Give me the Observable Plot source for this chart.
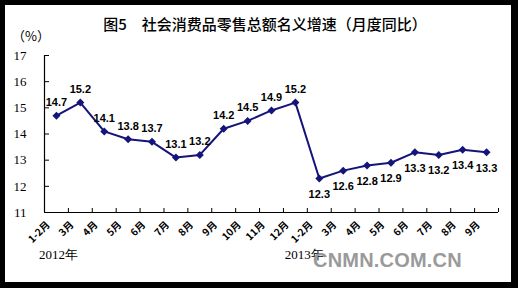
<!DOCTYPE html>
<html><head><meta charset="utf-8">
<script src="https://cdn.jsdelivr.net/npm/d3@7"></script>
<script src="https://cdn.jsdelivr.net/npm/@observablehq/plot@0.6"></script>
<style>
body{margin:0;}
#wrap{position:relative;width:518px;height:288px;background:#000;overflow:hidden;}
#inner{position:absolute;left:5px;top:5px;width:506px;height:277px;background:#fff;}
#chart{position:absolute;left:0;top:0;}
#title{position:absolute;left:0;width:530px;top:16px;text-align:center;font:500 15px/15px "Noto Sans CJK SC";color:#000;white-space:pre;}
#unit{position:absolute;left:12px;top:29px;font:13px/13px "Noto Sans CJK SC";color:#000;}
#wm{position:absolute;left:313px;top:250px;font:bold 20px/20px "Liberation Sans";color:#9a9a9a;letter-spacing:0.2px;}
</style></head>
<body>
<div id="wrap">
  <div id="inner"></div>
  <div id="chart"></div>
  <div id="title">图5　社会消费品零售总额名义增速（月度同比）</div>
  <div id="unit">（%）</div>
  <div id="wm">CNMN.COM.CN</div>
</div>
<script>
const months = ["1-2月","3月","4月","5月","6月","7月","8月","9月","10月","11月","12月","1-2月","3月","4月","5月","6月","7月","8月","9月"];
const years = [2012,2012,2012,2012,2012,2012,2012,2012,2012,2012,2012,2013,2013,2013,2013,2013,2013,2013,2013];
const values = [14.7,15.2,14.1,13.8,13.7,13.1,13.2,14.2,14.5,14.9,15.2,12.3,12.6,12.8,12.9,13.3,13.2,13.4,13.3];
const yTicks = [11,12,13,14,15,16,17];
const yearLabels = ["2012年","2013年"];

const data = values.map((v,i)=>({i, v, m: months[i], year: years[i]}));
const navy = "#14147a";
const lblFont = "Liberation Sans, Arial, sans-serif";
const bounds = d3.range(months.length + 1).map(k => k - 0.5);

const chart = Plot.plot({
  width: 518, height: 288,
  marginLeft: 44, marginRight: 20, marginTop: 55, marginBottom: 76,
  style: {background: "transparent", overflow: "visible"},
  x: {type: "linear", domain: [-0.5, months.length - 0.5], axis: null},
  y: {domain: [11, 17], axis: null},
  marks: [
    Plot.ruleY([11], {x1: -0.5, x2: months.length - 0.5, stroke: "#000", strokeWidth: 1.2}),
    Plot.ruleX([-0.5], {y1: 11, y2: 17, stroke: "#000", strokeWidth: 1.2}),
    Plot.ruleX(bounds, {x: d => d, y1: 11, y2: 11, insetTop: -4, stroke: "#000"}),
    Plot.ruleY(yTicks, {y: d => d, x1: -0.5, x2: -0.5, insetRight: -5, stroke: "#000"}),
    Plot.text(yTicks, {y: d => d, frameAnchor: "left", text: d => String(d), textAnchor: "end", dx: -18, fontFamily: "Liberation Serif, serif", fontSize: 13, fill: "#000"}),
    Plot.line(data, {x: "i", y: "v", stroke: navy, strokeWidth: 2}),
    Plot.dot(data, {x: "i", y: "v", symbol: "diamond2", r: 3.6, fill: navy, stroke: "none"}),
    Plot.text(data.filter(d => d.year === 2012), {x: "i", y: "v", text: d => d.v.toFixed(1), dy: -13, fontWeight: "bold", fontSize: 11, fontFamily: lblFont, fill: "#000"}),
    Plot.text(data.filter(d => d.year === 2013), {x: "i", y: "v", text: d => d.v.toFixed(1), dy: 16, fontWeight: "bold", fontSize: 11, fontFamily: lblFont, fill: "#000"}),
    Plot.text(data, {x: "i", frameAnchor: "bottom", text: "m", rotate: -45, textAnchor: "end", dx: -6, dy: 13, fontWeight: "bold", fontSize: 10, fontFamily: "Noto Sans CJK SC", fill: "#000"}),
    Plot.text([yearLabels[0]], {x: () => data.findIndex(d => d.year === 2012), frameAnchor: "bottom", text: d => d, dy: 46, dx: 2, fontFamily: "Liberation Serif, serif", fontSize: 13, fill: "#000"}),
    Plot.text([yearLabels[1]], {x: () => data.findIndex(d => d.year === 2013), frameAnchor: "bottom", text: d => d, dy: 46, dx: -15, fontFamily: "Liberation Serif, serif", fontSize: 13, fill: "#000"})
  ]
});
document.getElementById("chart").appendChild(chart);
</script>
</body></html>
